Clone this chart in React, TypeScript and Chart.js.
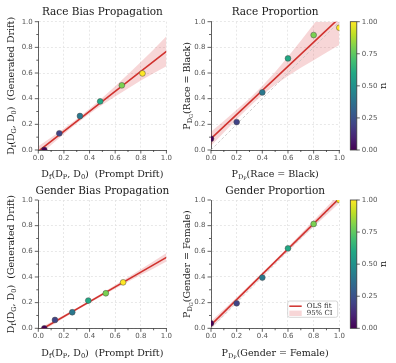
import React, { useEffect, useRef } from "react";
import { Chart, registerables } from "chart.js";

Chart.register(...registerables);

// ---------------- data ----------------
const nValues = [0, 0.2, 0.4, 0.6, 0.8, 1.0];
const bandX = [0, 0.1, 0.2, 0.3, 0.4, 0.5, 0.6, 0.7, 0.8, 0.9, 1.0];
const fitX = [0, 1];
const diagX = [0, 1];
const diagY = [0, 1];
const axisTicks = [0, 0.2, 0.4, 0.6, 0.8, 1.0];
const axisMinorTicks = [0.1, 0.3, 0.5, 0.7, 0.9];
const colorbarTicks = [0, 0.25, 0.5, 0.75, 1.0];
const colorbarTitle = "n";
const legendLabels = ["OLS fit", "95% CI"];

const raceBiasX = [0.047, 0.164, 0.325, 0.483, 0.652, 0.813];
const raceBiasY = [0.0, 0.13, 0.265, 0.379, 0.504, 0.597];
const raceBiasFitY = [-0.01, 0.769];
const raceBiasLower = [-0.05, 0.038, 0.124, 0.206, 0.282, 0.352, 0.417, 0.48, 0.541, 0.598, 0.652];
const raceBiasUpper = [0.03, 0.098, 0.168, 0.242, 0.322, 0.408, 0.497, 0.59, 0.685, 0.784, 0.886];

const raceRateX = [0, 0.2, 0.4, 0.6, 0.8, 1.0];
const raceRateY = [0.088, 0.218, 0.449, 0.714, 0.896, 0.953];
const raceRateFitY = [0.088, 1.028];
const raceRateLower = [0.033, 0.137, 0.239, 0.338, 0.429, 0.508, 0.577, 0.641, 0.7, 0.759, 0.818];
const raceRateUpper = [0.143, 0.227, 0.313, 0.402, 0.499, 0.608, 0.727, 0.851, 0.98, 1.109, 1.238];

const genderBiasX = [0.047, 0.13, 0.265, 0.39, 0.527, 0.662];
const genderBiasY = [0.0, 0.065, 0.125, 0.216, 0.273, 0.358];
const genderBiasFitY = [-0.023, 0.553];
const genderBiasLower = [-0.043, 0.02, 0.081, 0.141, 0.198, 0.254, 0.309, 0.362, 0.415, 0.467, 0.52];
const genderBiasUpper = [-0.003, 0.05, 0.103, 0.159, 0.216, 0.276, 0.337, 0.398, 0.461, 0.523, 0.586];

const genderRateX = [0, 0.2, 0.4, 0.6, 0.8, 1.0];
const genderRateY = [0.039, 0.195, 0.395, 0.623, 0.813, 1.0];
const genderRateFitY = [0.026, 1.013];
const genderRateLower = [-0.002, 0.102, 0.205, 0.307, 0.408, 0.507, 0.603, 0.698, 0.792, 0.884, 0.977];
const genderRateUpper = [0.054, 0.148, 0.241, 0.337, 0.434, 0.533, 0.633, 0.736, 0.84, 0.944, 1.049];

type Seg = [string, number];
const driftYLabel: Seg[] = [["D", 0], ["f", 1], ["(D", 0], ["G", 1], [", D", 0], ["0", 1], [")  (Generated Drift)", 0]];
const driftXLabel: Seg[] = [["D", 0], ["f", 1], ["(D", 0], ["P", 1], [", D", 0], ["0", 1], [")  (Prompt Drift)", 0]];
const raceYLabel: Seg[] = [["P", 0], ["D", 1], ["G", 2], ["(Race = Black)", 0]];
const raceXLabel: Seg[] = [["P", 0], ["D", 1], ["P", 2], ["(Race = Black)", 0]];
const genderYLabel: Seg[] = [["P", 0], ["D", 1], ["G", 2], ["(Gender = Female)", 0]];
const genderXLabel: Seg[] = [["P", 0], ["D", 1], ["P", 2], ["(Gender = Female)", 0]];

// ---------------- styles ----------------
const SERIF = "'DejaVu Serif', serif";
const SANS = "'DejaVu Sans', sans-serif";
const RED = "#d0312d";
const BAND = "rgba(214, 39, 40, 0.19)";
const SPINE = "#3a3a3a";
const GRID = "#e2e2e2";
const TICK_TEXT = "#555555";
const VIRIDIS = ["#440154", "#482475", "#414487", "#355f8d", "#2a788e", "#21918c", "#22a884", "#44bf70", "#7ad151", "#bddf26", "#fde725"];

function hexToRgb(h: string) {
  const v = parseInt(h.slice(1), 16);
  return [(v >> 16) & 255, (v >> 8) & 255, v & 255];
}
function viridis(t: number): string {
  const pos = Math.max(0, Math.min(1, t)) * (VIRIDIS.length - 1);
  const i = Math.floor(pos);
  if (i >= VIRIDIS.length - 1) return VIRIDIS[VIRIDIS.length - 1];
  const f = pos - i;
  const a = hexToRgb(VIRIDIS[i]);
  const b = hexToRgb(VIRIDIS[i + 1]);
  const c = a.map((v, k) => Math.round(v + (b[k] - v) * f));
  return `rgb(${c[0]},${c[1]},${c[2]})`;
}

function segFont(level: number, base: number) {
  const size = level === 0 ? base : level === 1 ? base * 0.7 : base * 0.52;
  return `${size}px ${SERIF}`;
}
function segShift(level: number, base: number) {
  return level === 0 ? 0 : level === 1 ? base * 0.22 : base * 0.42;
}
function drawRich(ctx: CanvasRenderingContext2D, segs: Seg[], base: number, x: number, y: number, rotate: boolean) {
  ctx.save();
  ctx.translate(x, y);
  if (rotate) ctx.rotate(-Math.PI / 2);
  let w = 0;
  for (const [t, l] of segs) {
    ctx.font = segFont(l, base);
    w += ctx.measureText(t).width;
  }
  let cx = -w / 2;
  ctx.textAlign = "left";
  ctx.textBaseline = "alphabetic";
  for (const [t, l] of segs) {
    ctx.font = segFont(l, base);
    ctx.fillText(t, cx, segShift(l, base));
    cx += ctx.measureText(t).width;
  }
  ctx.restore();
}

interface PanelSpec {
  key: string;
  left: number; top: number; w: number; h: number;
  yAxisW: number; xAxisH: number; padTop: number; padRight: number;
  title: string; titleY: number;
  xLabel: Seg[]; xLabelY: number;
  yLabel: Seg[]; yLabelX: number;
  px: number[]; py: number[];
  fitY: number[]; lower: number[]; upper: number[];
  diag: boolean; colorbar: boolean; legend: boolean;
}

const panels: PanelSpec[] = [
  {
    key: "rb", left: 0, top: 0, w: 176, h: 180,
    yAxisW: 38.3, xAxisH: 30, padTop: 21.7, padRight: 9.3,
    title: "Race Bias Propagation", titleY: 14.5,
    xLabel: driftXLabel, xLabelY: 176.5, yLabel: driftYLabel, yLabelX: 14,
    px: raceBiasX, py: raceBiasY, fitY: raceBiasFitY, lower: raceBiasLower, upper: raceBiasUpper,
    diag: false, colorbar: false, legend: false,
  },
  {
    key: "rr", left: 176, top: 0, w: 220, h: 180,
    yAxisW: 35, xAxisH: 30, padTop: 21.7, padRight: 56.7,
    title: "Race Proportion", titleY: 14.5,
    xLabel: raceXLabel, xLabelY: 176.5, yLabel: raceYLabel, yLabelX: 13.5,
    px: raceRateX, py: raceRateY, fitY: raceRateFitY, lower: raceRateLower, upper: raceRateUpper,
    diag: true, colorbar: true, legend: false,
  },
  {
    key: "gb", left: 0, top: 180, w: 176, h: 183,
    yAxisW: 38.3, xAxisH: 34.7, padTop: 20, padRight: 9.3,
    title: "Gender Bias Propagation", titleY: 13.5,
    xLabel: driftXLabel, xLabelY: 175.5, yLabel: driftYLabel, yLabelX: 14,
    px: genderBiasX, py: genderBiasY, fitY: genderBiasFitY, lower: genderBiasLower, upper: genderBiasUpper,
    diag: false, colorbar: false, legend: false,
  },
  {
    key: "gr", left: 176, top: 180, w: 220, h: 183,
    yAxisW: 35, xAxisH: 34.7, padTop: 20, padRight: 56.7,
    title: "Gender Proportion", titleY: 13.5,
    xLabel: genderXLabel, xLabelY: 175.5, yLabel: genderYLabel, yLabelX: 13.5,
    px: genderRateX, py: genderRateY, fitY: genderRateFitY, lower: genderRateLower, upper: genderRateUpper,
    diag: true, colorbar: true, legend: true,
  },
];

function decorPlugin(p: PanelSpec) {
  return {
    id: "decor_" + p.key,
    afterDraw(chart: any) {
      const ctx: CanvasRenderingContext2D = chart.ctx;
      const a = chart.chartArea;
      const xs = chart.scales.x;
      const ys = chart.scales.y;
      ctx.save();
      // tick marks
      ctx.strokeStyle = SPINE;
      ctx.lineWidth = 0.8;
      ctx.beginPath();
      for (const v of axisTicks) {
        const x = xs.getPixelForValue(v);
        ctx.moveTo(x, a.bottom); ctx.lineTo(x, a.bottom + 3.5);
        const y = ys.getPixelForValue(v);
        ctx.moveTo(a.left, y); ctx.lineTo(a.left - 3.5, y);
      }
      for (const v of axisMinorTicks) {
        const x = xs.getPixelForValue(v);
        ctx.moveTo(x, a.bottom); ctx.lineTo(x, a.bottom + 2);
        const y = ys.getPixelForValue(v);
        ctx.moveTo(a.left, y); ctx.lineTo(a.left - 2, y);
      }
      ctx.stroke();

      // title
      ctx.fillStyle = "#1a1a1a";
      ctx.font = `10.5px ${SERIF}`;
      ctx.textAlign = "center";
      ctx.textBaseline = "alphabetic";
      ctx.fillText(p.title, (a.left + a.right) / 2, p.titleY);
      // axis labels
      drawRich(ctx, p.xLabel, 9.5, (a.left + a.right) / 2, p.xLabelY, false);
      drawRich(ctx, p.yLabel, 9.5, p.yLabelX, (a.top + a.bottom) / 2, true);

      if (p.colorbar) {
        const bx = a.right + 11;
        const bw = 6.5;
        const top = ys.getPixelForValue(1);
        const bot = ys.getPixelForValue(0);
        const g = ctx.createLinearGradient(0, bot, 0, top);
        VIRIDIS.forEach((c, i) => g.addColorStop(i / (VIRIDIS.length - 1), c));
        ctx.fillStyle = g;
        ctx.fillRect(bx, top, bw, bot - top);
        ctx.strokeStyle = SPINE;
        ctx.lineWidth = 0.8;
        ctx.strokeRect(bx, top, bw, bot - top);
        ctx.font = `7px ${SANS}`;
        ctx.fillStyle = TICK_TEXT;
        ctx.textAlign = "left";
        ctx.textBaseline = "middle";
        ctx.beginPath();
        for (const v of colorbarTicks) {
          const y = bot + (top - bot) * v;
          ctx.moveTo(bx + bw, y); ctx.lineTo(bx + bw + 3, y);
          ctx.fillText(v.toFixed(2), bx + bw + 5, y);
        }
        ctx.stroke();
        ctx.fillStyle = "#1a1a1a";
        ctx.font = `10px ${SERIF}`;
        ctx.save();
        ctx.translate(a.right + 44.5, (top + bot) / 2);
        ctx.rotate(-Math.PI / 2);
        ctx.textAlign = "center";
        ctx.textBaseline = "middle";
        ctx.fillText(colorbarTitle, 0, 0);
        ctx.restore();
      }

      if (p.legend) {
        const r = a.right - 1.6;
        const b = a.bottom - 11;
        const l = r - 50;
        const t = b - 16.3;
        ctx.fillStyle = "rgba(255,255,255,0.85)";
        ctx.strokeStyle = "#cccccc";
        ctx.lineWidth = 0.8;
        ctx.beginPath();
        (ctx as any).roundRect(l, t, r - l, b - t, 2);
        ctx.fill();
        ctx.stroke();
        const rowY = [t + 5.2, t + 12.3];
        ctx.strokeStyle = RED;
        ctx.lineWidth = 1.5;
        ctx.beginPath();
        ctx.moveTo(l + 1.6, rowY[0]); ctx.lineTo(l + 14, rowY[0]);
        ctx.stroke();
        ctx.fillStyle = BAND;
        ctx.fillRect(l + 1.6, rowY[1] - 2.7, 12.4, 5.4);
        ctx.fillStyle = "#333333";
        ctx.font = `7px ${SERIF}`;
        ctx.textAlign = "left";
        ctx.textBaseline = "middle";
        ctx.fillText(legendLabels[0], l + 19, rowY[0]);
        ctx.fillText(legendLabels[1], l + 19, rowY[1]);
      }
      ctx.restore();
    },
  };
}

function makeConfig(p: PanelSpec): any {
  const datasets: any[] = [];
  datasets.push({
    type: "scatter",
    data: p.px.map((x, i) => ({ x, y: p.py[i] })),
    backgroundColor: nValues.map(viridis),
    borderColor: "#4a4a4a",
    borderWidth: 0.5,
    pointRadius: 2.9,
    clip: 0,
  });
  datasets.push({
    type: "line",
    data: fitX.map((x, i) => ({ x, y: p.fitY[i] })),
    borderColor: RED,
    borderWidth: 1.6,
    pointRadius: 0,
    fill: false,
    clip: 0,
  });
  if (p.diag) {
    datasets.push({
      type: "line",
      data: diagX.map((x, i) => ({ x, y: diagY[i] })),
      borderColor: "#c4c4c4",
      borderWidth: 0.8,
      borderDash: [3, 2],
      pointRadius: 0,
      fill: false,
      clip: 0,
    });
  }
  datasets.push({
    type: "line",
    data: bandX.map((x, i) => ({ x, y: p.upper[i] })),
    borderWidth: 0,
    borderColor: "rgba(0,0,0,0)",
    pointRadius: 0,
    fill: false,
    clip: 0,
  });
  datasets.push({
    type: "line",
    data: bandX.map((x, i) => ({ x, y: p.lower[i] })),
    borderWidth: 0,
    borderColor: "rgba(0,0,0,0)",
    backgroundColor: BAND,
    pointRadius: 0,
    fill: "-1",
    clip: 0,
  });

  const tickFont = { family: SANS, size: 7 };
  return {
    type: "scatter",
    data: { datasets },
    options: {
      animation: false,
      responsive: false,
      maintainAspectRatio: false,
      devicePixelRatio: 1,
      events: [],
      layout: { padding: { left: 0, top: p.padTop, right: p.padRight, bottom: 0 } },
      plugins: { legend: { display: false }, tooltip: { enabled: false }, title: { display: false } },
      scales: {
        x: {
          type: "linear",
          min: 0,
          max: 1,
          afterBuildTicks: (s: any) => { s.ticks = axisTicks.map((v) => ({ value: v })); },
          afterFit: (s: any) => { s.height = p.xAxisH; },
          ticks: { callback: (v: number) => v.toFixed(1), font: tickFont, color: TICK_TEXT, padding: 4, maxRotation: 0, autoSkip: false },
          grid: { color: GRID, lineWidth: 0.8, drawTicks: false },
          border: { display: true, color: SPINE, width: 0.8, dash: [2, 2] },
        },
        y: {
          type: "linear",
          min: 0,
          max: 1,
          afterBuildTicks: (s: any) => { s.ticks = axisTicks.map((v) => ({ value: v })); },
          afterFit: (s: any) => { s.width = p.yAxisW; },
          ticks: { callback: (v: number) => v.toFixed(1), font: tickFont, color: TICK_TEXT, padding: 5.5, autoSkip: false },
          grid: { color: GRID, lineWidth: 0.8, drawTicks: false },
          border: { display: true, color: SPINE, width: 0.8, dash: [2, 2] },
        },
      },
    },
    plugins: [decorPlugin(p)],
  };
}

function Panel({ spec }: { spec: PanelSpec }) {
  const ref = useRef<HTMLCanvasElement>(null);
  useEffect(() => {
    if (!ref.current) return;
    const chart = new Chart(ref.current, makeConfig(spec));
    return () => chart.destroy();
  }, [spec]);
  return (
    <canvas
      ref={ref}
      width={spec.w}
      height={spec.h}
      style={{ position: "absolute", left: spec.left, top: spec.top, width: spec.w, height: spec.h }}
    />
  );
}

export default function App() {
  return (
    <div style={{ position: "absolute", left: 0, top: 0, width: 396, height: 363, background: "#ffffff" }}>
      {panels.map((p) => (
        <Panel key={p.key} spec={p} />
      ))}
    </div>
  );
}
